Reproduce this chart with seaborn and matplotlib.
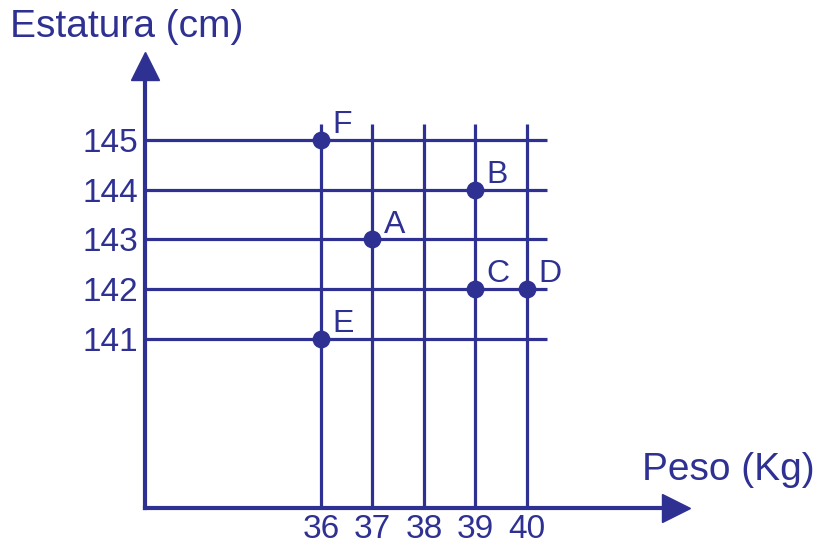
import matplotlib
matplotlib.use("Agg")
import matplotlib.pyplot as plt
import matplotlib.transforms as mtransforms
import seaborn as sns
import pandas as pd

# data
labels = ["A", "B", "C", "D", "E", "F"]
peso = [37, 39, 39, 40, 36, 36]
estatura = [143, 144, 142, 142, 141, 145]
x_ticks = [36, 37, 38, 39, 40]
y_ticks = [141, 142, 143, 144, 145]

blue = "#2E3192"

sns.set_theme(style="white")
plt.rcParams['font.family'] = ['Liberation Sans', 'DejaVu Sans']

fig = plt.figure(figsize=(8.13, 5.45), dpi=100)
# axes placed so the origin sits where the reference has it
ax = fig.add_axes([145/813, 37/545, (665-145)/813, (508-80)/545])
ax.set_xlim(32.583, 42.680)
ax.set_ylim(137.603, 146.206)

# grid lines (only the drawn ones)
ax.vlines(x_ticks, 137.603, 145.32, color=blue, lw=2.3, zorder=2)
ax.hlines(y_ticks, 32.583, 40.39, color=blue, lw=2.3, zorder=2)

df = pd.DataFrame({"peso": peso, "estatura": estatura, "label": labels})
sns.scatterplot(data=df, x="peso", y="estatura", color=blue, s=165,
                edgecolor=blue, linewidth=0, zorder=3, ax=ax)
for _, r in df.iterrows():
    ax.annotate(r["label"], (r["peso"], r["estatura"]), xytext=(8, 5),
                textcoords="offset points", ha="left", va="baseline",
                fontsize=23, color=blue)

# axes spines as arrows
for s in ["top", "right"]:
    ax.spines[s].set_visible(False)
for s in ["left", "bottom"]:
    ax.spines[s].set_color(blue)
    ax.spines[s].set_linewidth(3)
    ax.spines[s].set_capstyle("projecting")
ax.plot(1, 0, ">", ms=20, color=blue, clip_on=False,
        transform=mtransforms.offset_copy(ax.transAxes, fig, x=11, y=0, units="dots"))
ax.plot(0, 1, "^", ms=20, color=blue, clip_on=False,
        transform=mtransforms.offset_copy(ax.transAxes, fig, x=0, y=14, units="dots"))

ax.set_xticks(x_ticks)
ax.set_yticks(y_ticks)
ax.tick_params(axis="x", length=0, pad=4, labelsize=24, labelcolor=blue)
ax.tick_params(axis="y", length=0, pad=5, labelsize=24, labelcolor=blue)
ax.set_xlabel("")
ax.set_ylabel("")
ax.grid(False)

fig.text(10/813, 1-37/545, "Estatura (cm)", fontsize=28, color=blue,
         ha="left", va="baseline")
fig.text(642/813, 1-480/545, "Peso (Kg)", fontsize=28, color=blue,
         ha="left", va="baseline")

fig.savefig("out.png", dpi=100, facecolor="white")
